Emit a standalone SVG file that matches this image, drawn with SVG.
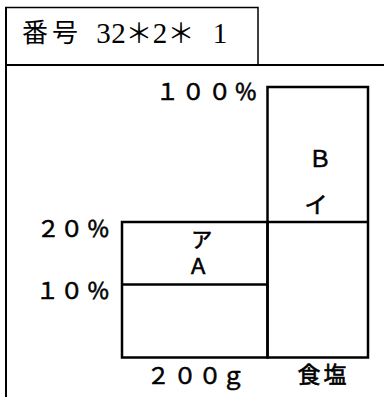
<svg xmlns="http://www.w3.org/2000/svg" width="384" height="397" viewBox="0 0 384 397">
<style>
.g{font-family:"Noto Sans CJK JP","Noto Sans",sans-serif;font-size:23px;fill:#000;stroke:#000;stroke-width:0.6px;text-anchor:middle}
.m{font-family:"Noto Sans CJK JP",sans-serif;font-size:26px;fill:#000;text-anchor:middle}
.s{font-family:"Liberation Serif",serif;font-size:29px;fill:#000;text-anchor:middle}
.ln{stroke:#000;fill:none}
</style>
<rect width="384" height="397" fill="#fff"/>
<g id="frame">
<rect class="ln" x="6" y="7.5" width="252" height="57.5" stroke-width="1.5"/>
<line class="ln" x1="6" y1="65" x2="384" y2="65" stroke-width="2"/>
<line class="ln" x1="6" y1="7" x2="6" y2="397" stroke-width="2"/>
</g>
<g id="title">
<text class="m" y="42"><tspan x="35">番</tspan><tspan x="65">号</tspan></text>
<text class="s" y="43"><tspan x="103.5">3</tspan><tspan x="118.5">2</tspan><tspan x="160">2</tspan><tspan x="220">1</tspan></text>
<text class="m" y="43" style="font-size:27px"><tspan x="139">＊</tspan><tspan x="181">＊</tspan></text>
</g>
<g id="connectors">
<rect class="ln" x="122" y="222" width="145.5" height="135.5" stroke-width="2.5"/>
<rect class="ln" x="267.5" y="87" width="100.5" height="270.5" stroke-width="2.5"/>
<line class="ln" x1="267.5" y1="222" x2="368" y2="222" stroke-width="2.5"/>
<line class="ln" x1="122" y1="284.5" x2="267.5" y2="284.5" stroke-width="2.5"/>
</g>
<g id="labels">
<text class="g" y="100"><tspan x="167.5">１</tspan><tspan x="193.3">０</tspan><tspan x="219.7">０</tspan><tspan x="245.7">％</tspan></text>
<text class="g" y="236.5"><tspan x="48.3">２</tspan><tspan x="71.7">０</tspan><tspan x="98.3">％</tspan></text>
<text class="g" y="299"><tspan x="47.5">１</tspan><tspan x="71.7">０</tspan><tspan x="98.3">％</tspan></text>
<text class="g" y="383.5"><tspan x="158.3">２</tspan><tspan x="185">０</tspan><tspan x="210">０</tspan><tspan x="233.3">ｇ</tspan></text>
<text class="g" y="382.5"><tspan x="309">食</tspan><tspan x="335">塩</tspan></text>
<text class="g" x="320" y="166.5">Ｂ</text>
<text class="g" x="316" y="213">イ</text>
<text class="g" x="201.7" y="247" style="font-size:21px">ア</text>
<text class="g" x="198.3" y="274" style="font-size:21px">Ａ</text>
</g>
</svg>
